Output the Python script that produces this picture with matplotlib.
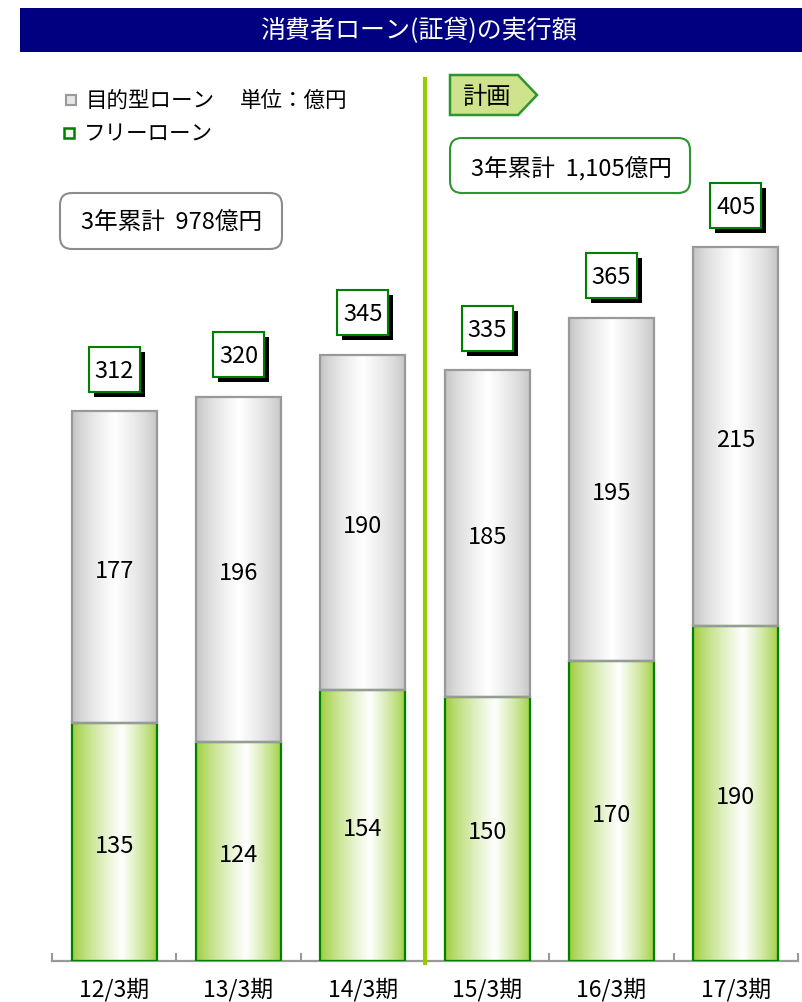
import numpy as np
import matplotlib
matplotlib.use("Agg")
import matplotlib.pyplot as plt
from matplotlib.patches import Rectangle, FancyBboxPatch, Polygon
from matplotlib.colors import to_rgb
import matplotlib.transforms as mtransforms

plt.rcParams['font.family'] = ['Noto Sans CJK JP', 'DejaVu Sans']

# ---- data ----
categories = ["12/3期", "13/3期", "14/3期", "15/3期", "16/3期", "17/3期"]
free_loan = [135, 124, 154, 150, 170, 190]        # フリーローン
purpose_loan = [177, 196, 190, 185, 195, 215]     # 目的型ローン
totals = [312, 320, 345, 335, 365, 405]
title = "消費者ローン(証貸)の実行額"
sum_actual = "3年累計  978億円"
sum_plan = "3年累計  1,105億円"

W, H = 803, 1002
fig = plt.figure(figsize=(W / 100, H / 100), dpi=100)
pxT = mtransforms.Affine2D().scale(1 / 100.) + fig.dpi_scale_trans


def P(x, y):
    return (x, H - y)


ppu = 550 / 312.0  # pixels per unit
ymax = 510
ax = fig.add_axes([52 / W, 41 / H, 746 / W, ymax * ppu / H])
ax.set_xlim(-0.5, 5.5)
ax.set_ylim(0, ymax)
for s in ["left", "right", "top"]:
    ax.spines[s].set_visible(False)
ax.spines["bottom"].set_color("#999999")
ax.spines["bottom"].set_linewidth(1.6)
ax.set_yticks([])
ax.set_xticks(range(len(categories)))
ax.set_xticklabels(categories, fontsize=16.5)
ax.tick_params(axis="x", which="major", length=0, pad=12)
ax.set_xticks(np.arange(-0.5, 6.0, 1.0), minor=True)
ax.tick_params(axis="x", which="minor", length=6, width=1.5, color="#999999", direction="in")


def gradient(edge, peak=0.55, n=256, power=0.8):
    t = np.linspace(0, 1, n)
    f = np.where(t < peak, t / peak, (1 - t) / (1 - peak))
    f = np.clip(f, 0, 1) ** power
    e = np.array(to_rgb(edge))
    img = e[None, :] * (1 - f[:, None]) + np.ones(3)[None, :] * f[:, None]
    return img[None, :, :]


green_img = gradient("#99CC33", peak=0.58, power=0.75)
gray_img = gradient("#BFBFBF", peak=0.5, power=0.65)

x = np.arange(len(categories))
bw = 85 / 124.33
gbars = ax.bar(x, free_loan, width=bw, facecolor="none", edgecolor="#008000", linewidth=1.6, zorder=3)
pbars = ax.bar(x, purpose_loan, bottom=free_loan, width=bw, facecolor="none", edgecolor="#999999",
               linewidth=1.6, zorder=4)
for bars, img in ((gbars, green_img), (pbars, gray_img)):
    for b in bars:
        x0, y0 = b.get_x(), b.get_y()
        im = ax.imshow(img, extent=(x0, x0 + b.get_width(), y0, y0 + b.get_height()),
                       aspect="auto", interpolation="bilinear", zorder=2)
        im.set_clip_path(b)

dy = -4 / ppu  # small optical shift of text centres
# segment labels
for i in range(len(categories)):
    ax.text(x[i], free_loan[i] / 2 + dy, str(free_loan[i]), ha="center", va="center", fontsize=17, zorder=6)
    ax.text(x[i], free_loan[i] + purpose_loan[i] / 2 + dy, str(purpose_loan[i]), ha="center", va="center",
            fontsize=17, zorder=6)

# total boxes with shadow
bxw, bxh = 51 / 124.33, 45 / ppu
sx, sy = 5 / 124.33, 5 / ppu
for i in range(len(categories)):
    top = free_loan[i] + purpose_loan[i]
    cy = top + 42 / ppu
    ax.add_patch(Rectangle((x[i] - bxw / 2 + sx, cy - bxh / 2 - sy), bxw, bxh, facecolor="black",
                           edgecolor="none", zorder=7, clip_on=False))
    ax.add_patch(Rectangle((x[i] - bxw / 2, cy - bxh / 2), bxw, bxh, facecolor="white",
                           edgecolor="#008000", linewidth=1.5, zorder=8, clip_on=False))
    ax.text(x[i], cy + dy / 2, str(totals[i]), ha="center", va="center", fontsize=17, zorder=9)

# divider line
ax.plot([2.5, 2.5], [-2, (961 - 77) / ppu], color="#99CC00", linewidth=3, zorder=5, clip_on=False,
        solid_capstyle="butt")

# title bar
fig.patches.append(Rectangle(P(20, 52), W - 20, 44, transform=pxT, facecolor="#000080", edgecolor="none"))
fig.text(*P(418, 31), title, transform=pxT, ha="center", va="center", color="white", fontsize=18)

# legend
fig.patches.append(Rectangle(P(66, 105), 10, 10, transform=pxT, facecolor="#E6E6E6", edgecolor="#999999",
                             linewidth=1.5))
fig.text(*P(86, 101), "目的型ローン", transform=pxT, ha="left", va="center", fontsize=15.5)
fig.text(*P(240, 101), "単位：億円", transform=pxT, ha="left", va="center", fontsize=15.5)
fig.patches.append(Rectangle(P(64, 138), 10, 10, transform=pxT, facecolor="#F4FAEC", edgecolor="#008000",
                             linewidth=1.8))
fig.text(*P(84, 134), "フリーローン", transform=pxT, ha="left", va="center", fontsize=15.5)

# cumulative boxes
fig.patches.append(FancyBboxPatch(P(60, 249), 222, 56, boxstyle="round,pad=0,rounding_size=12",
                                  transform=pxT, facecolor="white", edgecolor="#8C8C8C", linewidth=1.5))
fig.text(*P(172, 223), sum_actual, transform=pxT, ha="center", va="center", fontsize=17)
fig.patches.append(FancyBboxPatch(P(450, 193), 240, 55, boxstyle="round,pad=0,rounding_size=12",
                                  transform=pxT, facecolor="white", edgecolor="#2E962E", linewidth=1.5))
fig.text(*P(571, 169), sum_plan, transform=pxT, ha="center", va="center", fontsize=17)

# plan pentagon
pts = [P(450, 75), P(518, 75), P(537, 95), P(518, 115), P(450, 115)]
fig.patches.append(Polygon(pts, closed=True, transform=pxT, facecolor="#CFE38D", edgecolor="#2E962E",
                           linewidth=1.8))
fig.text(*P(486, 97), "計画", transform=pxT, ha="center", va="center", fontsize=17.5)

fig.savefig("out.png", dpi=100)
